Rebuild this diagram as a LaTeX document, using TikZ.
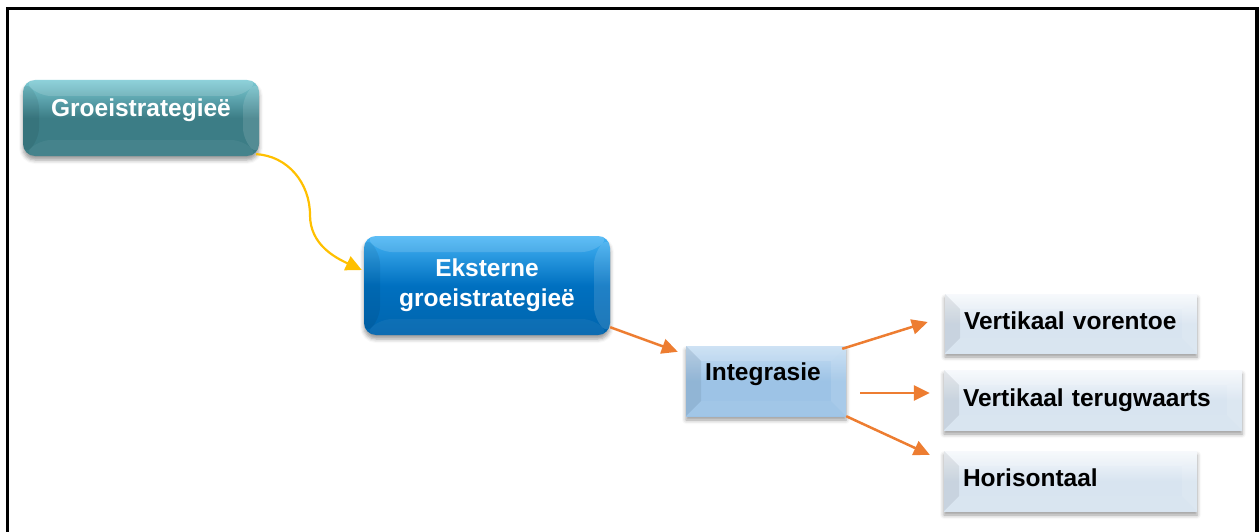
\documentclass[tikz,border=0pt]{standalone}
\usepackage{fontspec}
\setmainfont{Liberation Sans}
\usetikzlibrary{arrows.meta,shadows.blur,calc}

\definecolor{tealtop}{HTML}{7CCAD4}
\definecolor{tealbody}{HTML}{3C7D86}
\definecolor{bluetop}{HTML}{45B4F5}
\definecolor{bluebody}{HTML}{0070C0}
\definecolor{midtop}{HTML}{C6DEF3}
\definecolor{midbody}{HTML}{9DC3E6}
\definecolor{paletop}{HTML}{F6F9FC}
\definecolor{palebody}{HTML}{D8E4F0}
\definecolor{arroworange}{HTML}{ED7D31}
\definecolor{arrowyellow}{HTML}{FFC000}

\tikzset{
  bevel/.style={path picture={
    \coordinate (bnw) at (path picture bounding box.north west);
    \coordinate (bne) at (path picture bounding box.north east);
    \coordinate (bsw) at (path picture bounding box.south west);
    \coordinate (bse) at (path picture bounding box.south east);
    \fill[black,opacity=.07] (bnw) -- ($(bnw)+(#1,#1)$) -- ($(bsw)+(#1,-#1)$) -- (bsw) -- cycle;
    \fill[white,opacity=.12] (bne) -- ($(bne)+(-#1,#1)$) -- ($(bse)+(-#1,-#1)$) -- (bse) -- cycle;
    \fill[white,opacity=.14] (bnw) -- ($(bnw)+(#1,#1)$) -- ($(bne)+(-#1,#1)$) -- (bne) -- cycle;
    \fill[white,opacity=.05] (bsw) -- ($(bsw)+(#1,-#1)$) -- ($(bse)+(-#1,-#1)$) -- (bse) -- cycle;
  }},
  boxbase/.style={draw=none, inner ysep=0pt,
    font=\fontsize{24.5pt}{30pt}\selectfont\bfseries,
    blur shadow={shadow xshift=0pt, shadow yshift=-4pt,
      shadow blur radius=4pt, shadow opacity=40}},
  lift/.style={text height=18pt, text depth=#1},
  tealbox/.style={boxbase, rounded corners=12pt, text=white,
    top color=tealtop, bottom color=tealbody, middle color=tealbody, bevel=16},
  bluebox/.style={boxbase, rounded corners=12pt, text=white, align=center,
    top color=bluetop, bottom color=bluebody!90!black, middle color=bluebody, bevel=16},
  midbox/.style={boxbase, text=black, inner xsep=19pt, align=left,
    top color=midtop, bottom color=midbody, middle color=midbody, bevel=15},
  palebox/.style={boxbase, text=black, inner xsep=19pt, align=left,
    top color=paletop, bottom color=palebody, middle color=palebody, bevel=15},
  orangearrow/.style={draw=arroworange, line width=2.5pt,
    -{Triangle[length=16pt,width=15pt]}},
  yellowarrow/.style={draw=arrowyellow, line width=2.2pt,
    -{Triangle[length=16pt,width=15pt]}},
}

\begin{document}
\begin{tikzpicture}[x=1pt,y=-1pt]
  \useasboundingbox (0,0) rectangle (1260,532);

  % frame (its lower edge lies below the page)
  \draw[line width=3.5pt, line join=miter]
    (7.5,545) -- (7.5,8.5) -- (1257,8.5) -- (1257,545);

  % boxes
  \node[tealbox, lift=20pt, minimum width=236pt, minimum height=76pt]
    (grow) at (141,118) {Groeistrategieë};
  \node[bluebox, minimum width=246pt, minimum height=99pt]
    (ext) at (487,285.5) {Eksterne\\groeistrategieë};
  \node[midbox, lift=20pt, text width=122pt, minimum width=160pt, minimum height=70pt]
    (integ) at (766,381) {Integrasie};
  \node[palebox, lift=7pt, text width=214pt, minimum width=252pt, minimum height=59pt]
    (fwd) at (1071,323.5) {Vertikaal vorentoe};
  \node[palebox, lift=6pt, text width=260pt, minimum width=298pt, minimum height=60pt]
    (back) at (1093,400) {Vertikaal terugwaarts};
  \node[palebox, lift=8pt, text width=215pt, minimum width=253pt, minimum height=60pt]
    (horiz) at (1070.5,481) {Horisontaal};

  % connectors
  \coordinate (bend) at (310,215);
  \draw[yellowarrow] ([xshift=-3pt,yshift=2pt]grow.south east)
    to[out=-3,in=90] (bend) to[out=-90,in=155] ([xshift=-2pt,yshift=15.5pt]ext.west);

  \draw[orangearrow] ([yshift=8pt]ext.south east) -- ([xshift=-8pt,yshift=-6pt]integ.north west);
  \draw[orangearrow] ([xshift=-4pt,yshift=-3pt]integ.north east) -- ([xshift=-17pt,yshift=1.5pt]fwd.west);
  \draw[orangearrow] ([xshift=14pt,yshift=-12pt]integ.east) -- ([xshift=-14pt,yshift=7pt]back.west);
  \draw[orangearrow] (integ.south east) -- ([xshift=-14pt,yshift=-4pt]horiz.north west);
\end{tikzpicture}
\end{document}
